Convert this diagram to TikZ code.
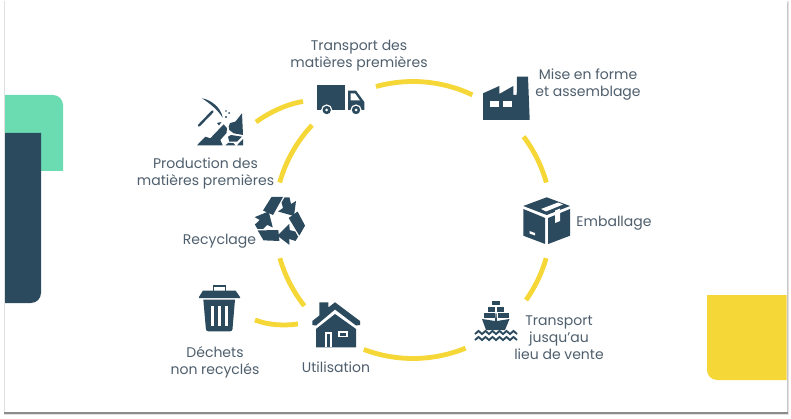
\documentclass[tikz,border=0pt]{standalone}
\usepackage{fontspec}
\setmainfont{Poppins}
\definecolor{navy}{HTML}{2C4A5E}
\definecolor{mint}{HTML}{6BDBB2}
\definecolor{sun}{HTML}{F5D738}
\definecolor{label}{HTML}{4F5F6D}
\tikzset{
 ring/.style={draw=sun,line width=4.8pt},
 lab/.style={text=label,font=\fontsize{14}{17}\selectfont,align=center,inner sep=0pt},
 ic/.style={fill=navy,draw=none},
 wh/.style={fill=white,draw=none},
}
\newcommand{\ringarc}[2]{\draw[ring] ([shift={(#1:138.5)}]cc) arc[start angle=#1,end angle=#2,radius=138.5];}
\begin{document}
\begin{tikzpicture}[x=1pt,y=1pt,yscale=-1]
\useasboundingbox (0,0) rectangle (791,419);
\fill[white] (0,0) rectangle (791,419);
% slide and shadow
\fill[black!12] (3.5,1) rectangle (788.5,415);
\fill[black!45] (4,411.5) rectangle (788,413.5);
\fill[black!22] (786.5,3) rectangle (788,412);
\fill[white] (5,1) rectangle (786.7,411.7);
% decorations
\fill[mint] (5,95) -- (53,95) arc[start angle=-90,end angle=0,radius=10] -- (63,171) -- (5,171) -- cycle;
\fill[navy] (5,133) -- (41,133) -- (41,293) arc[start angle=0,end angle=90,radius=10] -- (5,303) -- cycle;
\fill[sun] (707,295) -- (786.5,295) -- (786.5,380) -- (717,380) arc[start angle=90,end angle=180,radius=10] -- cycle;
% ring
\coordinate (cc) at (413,220);
\ringarc{-136.8}{-164.3}
\ringarc{-196}{-218.3}
\ringarc{-249.2}{-292.3}
\ringarc{35.3}{16}
\ringarc{-15.7}{-37}
\ringarc{-64.6}{-105.5}
\coordinate (pa) at (256,122); \coordinate (pb) at (303,101.5);
\draw[ring] (pa) .. controls (270,112) and (287,104) .. (pb);
\coordinate (ta) at (255,320); \coordinate (tb) at (298,324);
\draw[ring] (ta) .. controls (268,325) and (283,326) .. (tb);
% truck
\fill[ic] (317.3,85) rectangle (345.3,110);
\fill[ic] (348,90.7) -- (356,90.7) -- (364.3,102) -- (364.3,110) -- (348,110) -- cycle;
\fill[wh] (350.5,93.5) -- (355,93.5) -- (360,100.5) -- (350.5,100.5) -- cycle;
\foreach \wx in {326.7,356}{
 \fill[white] (\wx,110) circle (5.6);
 \fill[navy] (\wx,110) circle (4.2);
 \fill[white] (\wx,110) circle (1.5);
}
% factory
\fill[ic] (483,120) -- (483,93.3) -- (499.3,86) -- (499.3,94) -- (513.3,86) -- (513.3,95) -- (516.7,95) -- (517,76.7) -- (528,76.7) -- (529.7,120) -- cycle;
\fill[wh] (490,101.3) rectangle (498.7,106.7);
\fill[wh] (502.7,101.3) rectangle (511.7,106.7);
% package
\fill[ic] (546.7,197.3) -- (570,206) -- (546.7,215) -- (523.3,206) -- cycle;
\fill[ic] (523.3,209) -- (545.2,218) -- (545.2,244) -- (523.3,235.7) -- cycle;
\fill[ic] (570,209) -- (548.2,218) -- (548.2,244) -- (570,235.7) -- cycle;
\fill[wh] (541,209) -- (558,202.5) -- (563,204.5) -- (546,211.5) -- cycle;
\fill[wh] (555,210.5) -- (560,208.5) -- (560,221) -- (555,223) -- cycle;
\fill[wh] (529.5,231) -- (535,233) -- (535,235.5) -- (529.5,233.5) -- cycle;
% ship
\fill[ic] (492,301) rectangle (500,305.3);
\fill[ic] (488,306.8) rectangle (495.3,312);
\fill[ic] (496.8,306.8) rectangle (504,312);
\fill[ic] (483.5,313.3) rectangle (495,317.8);
\fill[ic] (497.5,313.3) rectangle (508.5,317.8);
\fill[ic] (482,319) -- (495,321) -- (495.6,313) -- (496.4,313) -- (497,321) -- (509.5,319) -- (505,330) -- (486,330) -- cycle;
\foreach \wy in {0,6}{
 \draw[navy,line width=1.9pt] (475,{334+\wy}) -- (478.5,{331+\wy}) -- (482,{334+\wy}) -- (485.5,{331+\wy}) -- (489,{334+\wy}) -- (492.5,{331+\wy}) -- (496,{334+\wy}) -- (499.5,{331+\wy}) -- (503,{334+\wy}) -- (506.5,{331+\wy}) -- (510,{334+\wy}) -- (513.5,{331+\wy}) -- (517,{334+\wy});
}
% house
\fill[ic] (316,329) -- (335,314) -- (356,329) -- (356,347.3) -- (316,347.3) -- cycle;
\fill[ic] (319.3,302.3) -- (328.3,302.3) -- (328.3,307.5) -- (335,302.3) -- (360,321) -- (360,325) -- (356,325.5) -- (335,309.5) -- (316,325.5) -- (312.3,325) -- (312.3,321) -- (319.3,315.5) -- cycle;
\fill[wh] (325,332) rectangle (331.7,347.3);
\fill[navy] (326.6,334) rectangle (330.1,347.3);
\fill[wh] (338.3,330.7) rectangle (348.3,337.3);
\fill[navy] (340.3,332.5) rectangle (346.3,335.5);
% bin
\draw[navy,line width=1.8pt] (213.5,291) -- (213.5,285.6) -- (225.5,285.6) -- (225.5,291);
\fill[ic] (203,290.5) -- (235.5,290.5) -- (240,297) -- (240,298) -- (199,298) -- (199,297) -- cycle;
\fill[ic] (203.3,299.5) -- (235,299.5) -- (232.5,329) arc[start angle=0,end angle=90,radius=2.3] -- (208.2,331.3) arc[start angle=90,end angle=180,radius=2.3] -- cycle;
\fill[wh] (210.7,306.3) rectangle (214,325.7);
\fill[wh] (218,306.3) rectangle (221.3,325.7);
\fill[wh] (225,306.3) rectangle (228.3,325.7);
% recycling
\foreach \ang in {0,120,240}{
 \begin{scope}[shift={(280,221)},rotate=\ang]
 \fill[ic] (-17,-10.5) -- (-8.5,-24) -- (3,-24) -- (-7,-6) -- cycle;
 \fill[ic] (4.5,-23.5) -- (9.5,-23.5) -- (11,-17) -- (16,-20) -- (14,-5) -- (-2,-9.5) -- (3,-13) -- (1.5,-18.5) -- cycle;
 \end{scope}
}
% mining
\fill[ic] (202,98.3) .. controls (210,99.5) and (221,107) .. (222.7,117.7) .. controls (218,110) and (210,103.5) .. (202,98.3) -- cycle;
\draw[navy,line width=2.4pt,line cap=round] (199,125.5) -- (212.5,111.5);
\fill[ic] (226,117) circle (1.1);
\fill[ic] (229,113) circle (1);
\fill[ic] (226,111) circle (0.9);
\fill[ic] (217,123) -- (221.5,122) -- (219,125.5) -- cycle;
\fill[ic] (197,145.3) -- (205.3,136.7) -- (210.3,138.3) -- (223.7,124.3) -- (227,128.3) -- (226.5,133) -- (220.3,140) -- (222.7,145.3) -- cycle;
\fill[ic] (228.7,126.7) -- (230,123) -- (235.3,121.7) -- (242,113.3) -- (243,135) -- (233.7,133.3) -- (229.3,130) -- cycle;
\fill[ic] (228,136.7) -- (231,135) -- (242,136.7) -- (237,141.7) -- (229.3,141.7) -- cycle;
\fill[ic] (237,145.3) -- (243,139) -- (243,145.3) -- cycle;
\fill[ic] (225.3,145.3) -- (228.7,142.7) -- (233.7,143.3) -- (235.3,145.3) -- cycle;
% labels
\node[lab] (n1) at (359,56) {Transport des\\matières premières};
\node[lab] (n2) at (588,84.5) {Mise en forme\\et assemblage};
\node[lab] (n3) at (614,223) {Emballage};
\node[lab] (n4) at (559,337.5) {Transport\\jusqu'au\\lieu de vente};
\node[lab] (n5) at (205.5,173) {Production des\\matières premières};
\node[lab] (n6) at (219.5,241) {Recyclage};
\node[lab] (n7) at (215,362) {Déchets\\non recyclés};
\node[lab] (n8) at (336,367.5) {Utilisation};
\end{tikzpicture}
\end{document}
